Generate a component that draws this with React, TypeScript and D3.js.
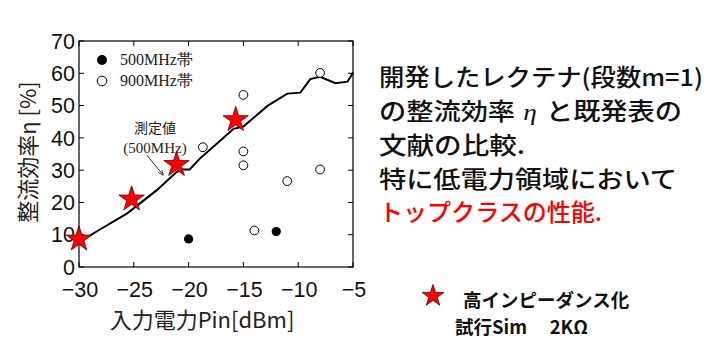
import * as d3 from "d3";
import { useEffect, useRef } from "react";

// simulated efficiency curve (500MHz)
const simX = [-30, -28.4, -25.6, -22.9, -21.1, -20.6, -19.9, -19, -17.1, -15.9, -15, -12.8, -11, -9.8, -8.9, -8, -6.6, -5.5, -5];
const simY = [7.6, 11, 16.6, 23.8, 29.4, 30.2, 30.2, 33.5, 39.2, 42.8, 43.5, 49.9, 53.7, 54, 58.2, 58.9, 56.9, 57.4, 60.2];

// high impedance trial points (stars)
const starX = [-30, -25.2, -21.1, -15.7];
const starY = [8.6, 21, 31.7, 45.6];

// literature 500MHz band (filled)
const f500X = [-20, -12];
const f500Y = [8.7, 11];

// literature 900MHz band (open)
const f900X = [-18.7, -15, -15, -15, -14, -11, -8, -8];
const f900Y = [37.1, 53.3, 35.8, 31.5, 11.3, 26.6, 60.1, 30.2];

const xTicks = [-30, -25, -20, -15, -10, -5];
const yTicks = [0, 10, 20, 30, 40, 50, 60, 70];

const sans = "'Liberation Sans', Arial, sans-serif";
const jp = "'Noto Sans CJK JP', sans-serif";
const serif = "'Liberation Serif', 'Times New Roman', serif";

export default function App() {
  const ref = useRef<SVGSVGElement>(null);

  useEffect(() => {
    const svg = d3.select(ref.current);
    svg.selectAll("*").remove();

    const x = d3.scaleLinear().domain([-30, -5]).range([79, 353]);
    const y = d3.scaleLinear().domain([0, 70]).range([267, 41]);

    const g = svg.append("g");

    // frame
    g.append("rect")
      .attr("x", x(-30))
      .attr("y", y(70))
      .attr("width", x(-5) - x(-30))
      .attr("height", y(0) - y(70))
      .attr("fill", "none")
      .attr("stroke", "#000")
      .attr("stroke-width", 1.2);

    // inward ticks on all sides
    const tl = 5;
    xTicks.forEach((t) => {
      g.append("line").attr("x1", x(t)).attr("x2", x(t)).attr("y1", y(0)).attr("y2", y(0) - tl).attr("stroke", "#000");
      g.append("line").attr("x1", x(t)).attr("x2", x(t)).attr("y1", y(70)).attr("y2", y(70) + tl).attr("stroke", "#000");
      g.append("text")
        .attr("x", x(t) + 1)
        .attr("y", 297)
        .attr("text-anchor", "middle")
        .attr("font-family", sans)
        .attr("font-size", 21.5)
        .attr("fill", "#111")
        .text(String(t).replace("-", "\u2212"));
    });
    yTicks.forEach((t) => {
      g.append("line").attr("x1", x(-30)).attr("x2", x(-30) + tl).attr("y1", y(t)).attr("y2", y(t)).attr("stroke", "#000");
      g.append("line").attr("x1", x(-5)).attr("x2", x(-5) - tl).attr("y1", y(t)).attr("y2", y(t)).attr("stroke", "#000");
      g.append("text")
        .attr("x", 75)
        .attr("y", y(t))
        .attr("dy", "0.36em")
        .attr("text-anchor", "end")
        .attr("font-family", sans)
        .attr("font-size", 21.5)
        .attr("fill", "#111")
        .text(t);
    });

    // axis titles
    g.append("text")
      .attr("x", 202)
      .attr("y", 328)
      .attr("text-anchor", "middle")
      .attr("font-family", jp)
      .attr("font-size", 22)
      .attr("fill", "#222")
      .text("入力電力Pin[dBm]");
    g.append("text")
      .attr("transform", "translate(36,152) rotate(-90)")
      .attr("text-anchor", "middle")
      .attr("font-family", jp)
      .attr("font-size", 22)
      .attr("fill", "#222")
      .text("整流効率η [%]");

    // sim curve
    const line = d3
      .line<number>()
      .x((d, i) => x(simX[i]))
      .y((d) => y(d));
    g.append("path")
      .attr("d", line(simY))
      .attr("fill", "none")
      .attr("stroke", "#000")
      .attr("stroke-width", 2);

    // annotation
    g.append("text")
      .attr("x", 155)
      .attr("y", 133)
      .attr("text-anchor", "middle")
      .attr("font-family", jp)
      .attr("font-size", 14)
      .attr("fill", "#222")
      .text("測定値");
    g.append("text")
      .attr("x", 155)
      .attr("y", 153)
      .attr("text-anchor", "middle")
      .attr("font-family", serif)
      .attr("font-size", 15)
      .attr("fill", "#222")
      .text("(500MHz)");
    svg
      .append("defs")
      .append("marker")
      .attr("id", "arr")
      .attr("viewBox", "0 0 10 10")
      .attr("refX", 10)
      .attr("refY", 5)
      .attr("markerWidth", 7)
      .attr("markerHeight", 7)
      .attr("orient", "auto")
      .append("path")
      .attr("d", "M0,1 L10,5 L0,9")
      .attr("fill", "none")
      .attr("stroke", "#000")
      .attr("stroke-width", 1.2);
    g.append("line")
      .attr("x1", x(-23.8))
      .attr("y1", y(34.6))
      .attr("x2", x(-22.3))
      .attr("y2", y(28.4))
      .attr("stroke", "#000")
      .attr("stroke-width", 0.8)
      .attr("marker-end", "url(#arr)");

    // 900MHz open circles
    f900X.forEach((v, i) => {
      g.append("circle")
        .attr("cx", x(v))
        .attr("cy", y(f900Y[i]))
        .attr("r", 4.4)
        .attr("fill", "#fff")
        .attr("stroke", "#000")
        .attr("stroke-width", 1);
    });
    // 500MHz filled circles
    f500X.forEach((v, i) => {
      g.append("circle").attr("cx", x(v)).attr("cy", y(f500Y[i])).attr("r", 4.6).attr("fill", "#000");
    });

    // stars
    const star = d3.symbol().type(d3.symbolStar).size(200);
    starX.forEach((v, i) => {
      g.append("path")
        .attr("d", star())
        .attr("transform", `translate(${x(v)},${y(starY[i])})`)
        .attr("fill", "#f00")
        .attr("stroke", "#600")
        .attr("stroke-width", 0.8);
    });

    // legend inside plot
    g.append("circle").attr("cx", 102).attr("cy", 60).attr("r", 5).attr("fill", "#000");
    g.append("circle").attr("cx", 102).attr("cy", 81).attr("r", 4.8).attr("fill", "#fff").attr("stroke", "#000");
    g.append("text").attr("x", 120).attr("y", 65).attr("font-family", serif).attr("font-size", 16).attr("fill", "#222").text("500MHz帯");
    g.append("text").attr("x", 120).attr("y", 86).attr("font-family", serif).attr("font-size", 16).attr("fill", "#222").text("900MHz帯");

    // right-side text
    const fs = 23.5;
    const rt = (yy: number, s: string, len: number | null, color = "#111") => {
      const t = g
        .append("text")
        .attr("x", 379)
        .attr("y", yy)
        .attr("font-family", jp)
        .attr("font-size", fs)
        .attr("font-weight", 500)
        .attr("fill", color)
        .text(s);
      if (len) t.attr("textLength", len).attr("lengthAdjust", "spacingAndGlyphs");
      return t;
    };
    rt(86, "開発したレクテナ(段数m=1)", 324);
    const l2 = g
      .append("text")
      .attr("x", 379)
      .attr("y", 120)
      .attr("font-family", jp)
      .attr("font-size", fs)
      .attr("font-weight", 500)
      .attr("fill", "#111")
      .attr("textLength", 303)
      .attr("lengthAdjust", "spacingAndGlyphs");
    l2.append("tspan").text("の整流効率");
    l2.append("tspan").attr("font-family", serif).attr("font-style", "italic").attr("dx", 7).text("η");
    l2.append("tspan").attr("dx", 8).text("と既発表の");
    rt(154, "文献の比較.", 146);
    rt(188, "特に低電力領域において", 298);
    rt(221, "トップクラスの性能.", 223, "#f00");

    // bottom legend
    g.append("path")
      .attr("d", d3.symbol().type(d3.symbolStar).size(150)())
      .attr("transform", "translate(433,296)")
      .attr("fill", "#f00")
      .attr("stroke", "#600")
      .attr("stroke-width", 0.8);
    g.append("text")
      .attr("x", 463)
      .attr("y", 307)
      .attr("font-family", jp)
      .attr("font-size", 18.5)
      .attr("font-weight", "bold")
      .attr("fill", "#111")
      .text("高インピーダンス化");
    g.append("text")
      .attr("x", 455)
      .attr("y", 334)
      .attr("font-family", jp)
      .attr("font-size", 18.5)
      .attr("font-weight", "bold")
      .attr("fill", "#111")
      .text("試行Sim\u3000 2KΩ");
  }, []);

  return (
    <svg
      ref={ref}
      width={716}
      height={362}
      style={{ position: "absolute", left: 0, top: 0, background: "#fff" }}
    />
  );
}
